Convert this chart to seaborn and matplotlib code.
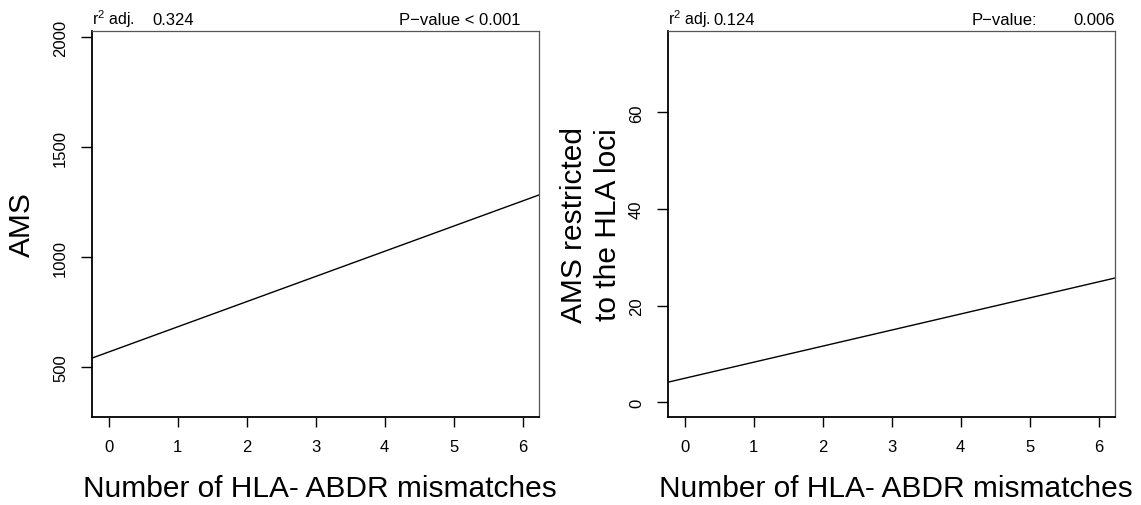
import matplotlib
matplotlib.use("Agg")
import matplotlib.pyplot as plt
import seaborn as sns
import numpy as np
import pandas as pd

# ---- data ----
x_ticks = [0, 1, 2, 3, 4, 5, 6]
panel_ylabels = ["AMS", "AMS restricted\nto the HLA loci"]
x_label = "Number of HLA- ABDR mismatches"
intercepts = [569.0, 4.95]
slopes = [114.5, 3.33]
r2_label = "r$^{2}$ adj."
r2_values = ["0.324", "0.124"]
p_labels = ["P\u2212value < 0.001", "P\u2212value:"]
p_values = ["", "0.006"]
y_ticks = [[500, 1000, 1500, 2000], [0, 20, 40, 60]]
y_lims = [(275, 2027), (-3.0, 76.8)]
x_lim = (-0.245, 6.24)

sns.set_theme(style="white")
plt.rcParams['font.family'] = ['Liberation Sans', 'DejaVu Sans']
plt.rcParams['mathtext.fontset'] = 'custom'
plt.rcParams['mathtext.rm'] = 'Liberation Sans'
plt.rcParams['mathtext.it'] = 'Liberation Sans'
for k in ['text.color', 'axes.labelcolor', 'xtick.color', 'ytick.color']:
    plt.rcParams[k] = 'black'

fig = plt.figure(figsize=(11.41, 5.06), dpi=100)
W, H = 1141, 506
boxes = [(91.7, 32.3, 539.3, 417.7), (667.7, 32.3, 1115.3, 417.7)]
ylab_x = [-0.156, -0.171]
r2_val_x = [0.136, 0.101]
p_lab_pos = [(0.957, "right"), (0.678, "left")]
fs_small = 12.0
fs_r2 = 11.4
fs_tick = 12

for i in range(2):
    l, t, r, b = boxes[i]
    ax = fig.add_axes([l / W, (H - b) / H, (r - l) / W, (b - t) / H])
    xs = np.array(x_lim)
    df = pd.DataFrame({"x": xs, "y": intercepts[i] + slopes[i] * xs})
    sns.lineplot(data=df, x="x", y="y", ax=ax, color="black", linewidth=1.0)
    ax.set_xlim(*x_lim)
    ax.set_ylim(*y_lims[i])
    ax.set_xticks(x_ticks)
    ax.set_xticklabels([str(v) for v in x_ticks], fontsize=fs_tick)
    ax.set_yticks(y_ticks[i])
    ax.set_yticklabels([str(v) for v in y_ticks[i]], fontsize=fs_tick, rotation=90, va="center")
    ax.tick_params(axis="x", direction="out", length=7.5, width=1.0, color="black", pad=8.5, bottom=True)
    ax.tick_params(axis="y", direction="out", length=8, width=1.0, color="black", pad=9, left=True)
    for s in ["left", "bottom"]:
        ax.spines[s].set_color("black")
        ax.spines[s].set_linewidth(1.3)
    for s in ["top", "right"]:
        ax.spines[s].set_color("#555555")
        ax.spines[s].set_linewidth(0.9)
    ax.set_xlabel(x_label, fontsize=21.5, va="baseline")
    ax.xaxis.set_label_coords(0.509, -0.205)
    ax.set_ylabel(panel_ylabels[i], fontsize=21.5, linespacing=1.3, va="center")
    ax.yaxis.set_label_coords(ylab_x[i], 0.5)
    ax.text(0.0, 1.019, r2_label, transform=ax.transAxes, ha="left", va="baseline", fontsize=fs_r2)
    ax.text(r2_val_x[i], 1.019, r2_values[i], transform=ax.transAxes, ha="left", va="baseline", fontsize=fs_small)
    px, pha = p_lab_pos[i]
    ax.text(px, 1.019, p_labels[i], transform=ax.transAxes, ha=pha, va="baseline", fontsize=fs_small)
    if p_values[i]:
        ax.text(0.998, 1.019, p_values[i], transform=ax.transAxes, ha="right", va="baseline", fontsize=fs_small)

fig.savefig("out.png", dpi=100, facecolor="white")
